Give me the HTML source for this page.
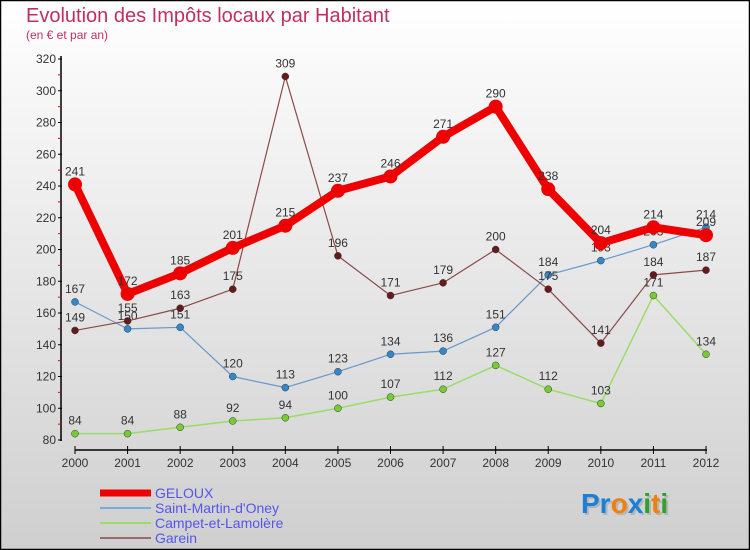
<!DOCTYPE html>
<html><head><meta charset="utf-8"><style>
body{margin:0;width:750px;height:550px;overflow:hidden;font-family:"Liberation Sans",sans-serif}
svg{display:block}
</style></head><body>
<svg id="c" width="750" height="550" xmlns="http://www.w3.org/2000/svg">
<defs><linearGradient id="bg" x1="0" y1="0" x2="0" y2="1"><stop offset="0" stop-color="#ffffff"/><stop offset="1" stop-color="#cfcfcf"/></linearGradient></defs>
<rect x="0.5" y="0.5" width="749" height="549" fill="url(#bg)" stroke="#000" stroke-width="1.5"/>
<text x="26" y="22" font-size="20" fill="#c0305a">Evolution des Impôts locaux par Habitant</text>
<text x="26" y="39" font-size="12" fill="#c0305a">(en € et par an)</text>
<g id="axes"></g><g id="series"></g><g id="legend"></g>
<g font-size="28" font-weight="bold">
<text x="583" y="515" fill="#999" opacity="0.5">Proxiti</text>
<text x="581" y="513"><tspan fill="#1a7fd6">Pr</tspan><tspan fill="#f07f10">o</tspan><tspan fill="#1a7fd6">x</tspan><tspan fill="#2da02d">i</tspan><tspan fill="#f07f10">t</tspan><tspan fill="#2da02d">i</tspan></text>
</g>
</svg>
<script>
const years=[2000,2001,2002,2003,2004,2005,2006,2007,2008,2009,2010,2011,2012];
const yTicks=[80,100,120,140,160,180,200,220,240,260,280,300,320];
const geloux=[241,172,185,201,215,237,246,271,290,238,204,214,209];
const saintMartin=[167,150,151,120,113,123,134,136,151,184,193,203,214];
const campet=[84,84,88,92,94,100,107,112,127,112,103,171,134];
const garein=[149,155,163,175,309,196,171,179,200,175,141,184,187];
const NS="http://www.w3.org/2000/svg";
const sx=i=>75+i*(706-75)/12;
const sy=v=>440-(v-80)*(440-59)/240;
function el(t,a,p){const e=document.createElementNS(NS,t);for(const k in a)e.setAttribute(k,a[k]);p.appendChild(e);return e;}
const ax=document.getElementById('axes');
let l=el('line',{x1:61,y1:56,x2:61,y2:441,stroke:'#000','stroke-width':1.5},ax);


l=el('line',{x1:75,y1:450,x2:707,y2:450,stroke:'#000','stroke-width':1.5},ax);


yTicks.forEach((v,i)=>{
  el('line',{x1:58,y1:sy(v),x2:62,y2:sy(v),stroke:'#000'},ax);
  if(i<yTicks.length-1)el('line',{x1:58,y1:sy(v+10),x2:61,y2:sy(v+10),stroke:'#e00'},ax);
  const t=el('text',{x:56,y:sy(v)+4,'text-anchor':'end','font-size':12,fill:'#333'},ax);
  t.textContent=v;
  
  
});
years.forEach((y,i)=>{
  el('line',{x1:sx(i),y1:446,x2:sx(i),y2:454,stroke:'#000'},ax);
  const t=el('text',{x:sx(i),y:467,'text-anchor':'middle','font-size':12,fill:'#333'},ax);
  t.textContent=y;
  
  
});
const sg=document.getElementById('series');
function draw(data,color,dot,w,r,name){
  const g=el('g',{},sg);
  
  
  const p=el('polyline',{points:data.map((v,i)=>sx(i)+','+sy(v)).join(' '),fill:'none',stroke:color,'stroke-width':w,'stroke-linejoin':'round'},g);
  
  
  data.forEach((v,i)=>{
    const c=el('circle',{cx:sx(i),cy:sy(v),r:r,fill:dot,stroke:w>3?'none':'#333','stroke-width':0.5},g);
    
    
    const t=el('text',{x:sx(i),y:sy(v)-9,'text-anchor':'middle','font-size':12,fill:'#333'},g);
    t.textContent=v;
    
    
  });
}
draw(campet,'#99dd66','#77cc33',1.5,3.5,'campet');
draw(saintMartin,'#6699cc','#3388cc',1.2,3.5,'saint-martin');
draw(garein,'#8b4a4a','#661a1a',1.2,3.5,'garein');
draw(geloux,'#ee0000','#ee0000',8,7,'geloux');
const lg=document.getElementById('legend');
const items=[['GELOUX','#ee0000',7],['Saint-Martin-d\'Oney','#7aaad6',2],['Campet-et-Lamolère','#99dd66',2],['Garein','#9a6a6a',2]];
items.forEach((it,i)=>{
  const y=493+i*15;
  const g=el('g',{},lg);
  
  
  el('line',{x1:100,y1:y,x2:151,y2:y,stroke:it[1],'stroke-width':it[2]},g);
  const t=el('text',{x:155,y:y+5,'font-size':14,fill:'#5555ee'},g);
  t.textContent=it[0];
});
</script>
</body></html>
